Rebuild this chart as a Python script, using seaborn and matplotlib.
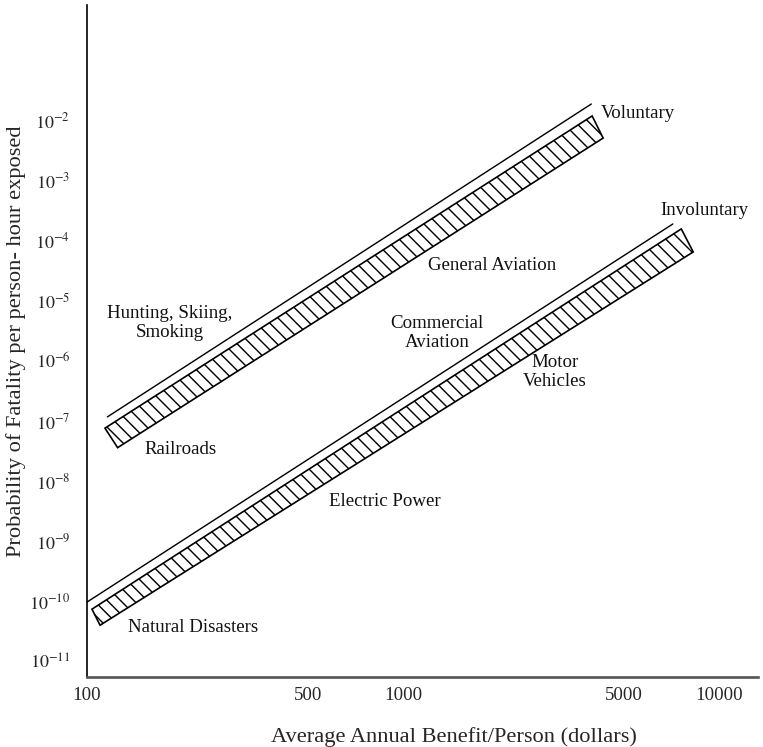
import matplotlib
matplotlib.use("Agg")
import matplotlib.pyplot as plt
import pandas as pd
import seaborn as sns

# Bandas de riesgo: linea superior fina y paralelogramo rayado
bandas = ["Voluntary", "Involuntary"]
linea_x = [[116, 3940], [100, 7140]]
linea_y = [[1.17e-7, 1.88e-2], [9.7e-11, 1.9e-4]]
banda_x = [[114, 3965, 4295, 125], [103.7, 7590, 8280, 110]]
banda_y = [[7.6e-8, 1.19e-2, 5.1e-3, 3.6e-8], [7.4e-11, 1.57e-4, 6.5e-5, 4.0e-11]]

# Etiquetas de actividades
etiquetas = ["Voluntary", "Involuntary", "General Aviation", "Hunting, Skiing,\nSmoking",
             "Commercial\nAviation", "Motor\nVehicles", "Railroads", "Electric Power",
             "Natural Disasters"]
etiq_x = [5546, 8975, 1914, 183, 1282, 3027, 197, 877, 216]
etiq_y = [1.33e-2, 3.24e-4, 3.8e-5, 4.3e-6, 2.9e-6, 6.5e-7, 3.4e-8, 4.5e-9, 3.6e-11]

x_ticks = [100, 500, 1000, 5000, 10000]
x_tick_labels = ["100", "500", "1000", "5000", "10000"]
y_exps = [-11, -10, -9, -8, -7, -6, -5, -4, -3, -2]

sns.set_theme(style="white")
plt.rcParams["font.family"] = ["Liberation Serif", "DejaVu Serif"]
plt.rcParams["mathtext.fontset"] = "stix"
plt.rcParams["hatch.linewidth"] = 0.85

DPI = 120
fig = plt.figure(figsize=(763 / DPI, 747 / DPI), dpi=DPI)
ax = fig.add_axes([0.114, 0.0937, 0.8794, 0.8996])
ax.set_xscale("log")
ax.set_yscale("log")

for i, nombre in enumerate(bandas):
    df = pd.DataFrame({"x": linea_x[i], "y": linea_y[i]})
    sns.lineplot(data=df, x="x", y="y", ax=ax, color="black", linewidth=0.85)
    ax.fill(banda_x[i], banda_y[i], facecolor="none", edgecolor="black",
            linewidth=1.0, hatch="\\\\\\")

for txt, tx, ty in zip(etiquetas, etiq_x, etiq_y):
    ax.text(tx, ty, txt, ha="center", va="center", fontsize=11.3,
            linespacing=1.2, color="#111111")

ax.set_xlim(100, 13270)
ax.set_ylim(5.5e-12, 0.835)

ax.set_xticks(x_ticks)
ax.set_xticklabels(x_tick_labels)
ax.xaxis.set_minor_locator(matplotlib.ticker.NullLocator())
ax.set_yticks([10.0 ** e for e in y_exps])
ax.set_yticklabels([rf"$10^{{{e}}}$" for e in y_exps])
ax.yaxis.set_minor_locator(matplotlib.ticker.NullLocator())
ax.tick_params(axis="x", length=0, pad=6, labelsize=11.3)
ax.tick_params(axis="y", length=0, pad=10, labelsize=10.8)

ax.set_xlabel("Average Annual Benefit/Person (dollars)", fontsize=13.4)
ax.xaxis.set_label_coords(0.547, -0.075)
ax.set_ylabel("Probability of Fatality per person- hour exposed", fontsize=13.4, labelpad=2)

for lado in ["top", "right"]:
    ax.spines[lado].set_visible(False)
ax.spines["left"].set_color("black")
ax.spines["left"].set_linewidth(1.0)
ax.spines["bottom"].set_color("#555555")
ax.spines["bottom"].set_linewidth(1.6)

fig.savefig("out.png", dpi=DPI)
